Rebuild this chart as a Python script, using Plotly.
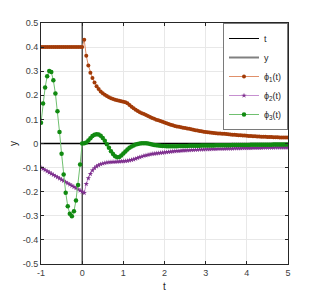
import numpy as np
import plotly.graph_objects as go

# ---- data ----
t = np.linspace(-1, 5, 121)

phi1 = [
    0.400, 0.400, 0.400, 0.400, 0.400, 0.400, 0.400, 0.400, 0.400, 0.400,
    0.400, 0.400, 0.400, 0.400, 0.400, 0.400, 0.400, 0.400, 0.400, 0.400,
    0.400,
    0.430, 0.364, 0.324, 0.294, 0.272, 0.253, 0.238, 0.226, 0.216, 0.208,
    0.202, 0.197, 0.192, 0.188, 0.185, 0.182, 0.179, 0.177, 0.175, 0.173,
    0.171, 0.167, 0.160, 0.153, 0.146, 0.140, 0.135, 0.130, 0.126, 0.122,
    0.118, 0.114, 0.110, 0.106, 0.103, 0.099, 0.096, 0.093, 0.090, 0.087,
    0.084, 0.081, 0.078, 0.076, 0.073, 0.071, 0.069, 0.067, 0.065, 0.064,
    0.062, 0.061, 0.059, 0.057, 0.055, 0.054, 0.052, 0.051, 0.049, 0.048,
    0.047, 0.046, 0.045, 0.044, 0.043, 0.042, 0.041, 0.040, 0.040, 0.039,
    0.038, 0.037, 0.036, 0.036, 0.035, 0.034, 0.034, 0.033, 0.033, 0.032,
    0.031, 0.031, 0.030, 0.030, 0.029, 0.029, 0.028, 0.028, 0.028, 0.027,
    0.027, 0.027, 0.026, 0.026, 0.026, 0.025, 0.025, 0.025, 0.025, 0.025,
]

phi2 = [
    -0.100, -0.105, -0.110, -0.115, -0.120, -0.125, -0.130, -0.135, -0.140, -0.145,
    -0.150, -0.155, -0.160, -0.165, -0.170, -0.175, -0.180, -0.185, -0.190, -0.195,
    -0.200,
    -0.205, -0.168, -0.144, -0.126, -0.112, -0.102, -0.095, -0.090, -0.086, -0.083,
    -0.081, -0.079, -0.078, -0.077, -0.076, -0.076, -0.075, -0.075, -0.074, -0.074,
    -0.073, -0.072, -0.070, -0.068, -0.066, -0.063, -0.060, -0.057, -0.054, -0.051,
    -0.049, -0.047, -0.045, -0.043, -0.042, -0.041, -0.040, -0.039, -0.038, -0.037,
    -0.036, -0.035, -0.034, -0.033, -0.032, -0.031, -0.031, -0.030, -0.029, -0.029,
    -0.028, -0.028, -0.027, -0.027, -0.026, -0.026, -0.025, -0.025, -0.025, -0.024,
    -0.024, -0.024, -0.023, -0.023, -0.023, -0.022, -0.022, -0.022, -0.022, -0.021,
    -0.021, -0.021, -0.021, -0.020, -0.020, -0.020, -0.020, -0.019, -0.019, -0.019,
    -0.019, -0.019, -0.018, -0.018, -0.018, -0.018, -0.018, -0.017, -0.017, -0.017,
    -0.017, -0.017, -0.017, -0.016, -0.016, -0.016, -0.016, -0.016, -0.016, -0.016,
]

phi3 = [
    0.086, 0.166, 0.232, 0.279, 0.301, 0.297, 0.262, 0.207, 0.134, 0.048,
    -0.043, -0.129, -0.204, -0.260, -0.292, -0.302, -0.281, -0.236, -0.172, -0.087,
    0.000,
    0.001, 0.004, 0.012, 0.022, 0.031, 0.036, 0.038, 0.037, 0.032, 0.023,
    0.011, -0.003, -0.018, -0.032, -0.044, -0.053, -0.057, -0.056, -0.050, -0.042,
    -0.033, -0.025, -0.018, -0.012, -0.008, -0.004, -0.002, 0.000, 0.001, 0.001,
    0.001, 0.000, -0.002, -0.004, -0.006, -0.007, -0.008, -0.009, -0.010, -0.010,
    -0.011, -0.011, -0.011, -0.011, -0.011, -0.011, -0.010, -0.010, -0.010, -0.010,
    -0.010, -0.009, -0.009, -0.009, -0.009, -0.009, -0.009, -0.008, -0.008, -0.008,
    -0.008, -0.008, -0.008, -0.008, -0.007, -0.007, -0.007, -0.007, -0.007, -0.007,
    -0.007, -0.007, -0.006, -0.006, -0.006, -0.006, -0.006, -0.006, -0.006, -0.006,
    -0.006, -0.005, -0.005, -0.005, -0.005, -0.005, -0.005, -0.005, -0.005, -0.005,
    -0.005, -0.005, -0.004, -0.004, -0.004, -0.004, -0.004, -0.004, -0.004, -0.004,
]

# reference lines
t_line_x = [0, 0]
t_line_y = [-0.5, 0.5]
y_line_x = [-1, 5]
y_line_y = [0, 0]

x_tickvals = [-1, 0, 1, 2, 3, 4, 5]
x_ticktext = ["-1", "0", "1", "2", "3", "4", "5"]
y_tickvals = [-0.5, -0.4, -0.3, -0.2, -0.1, 0, 0.1, 0.2, 0.3, 0.4, 0.5]
y_ticktext = ["-0.5", "-0.4", "-0.3", "-0.2", "-0.1", "0", "0.1", "0.2", "0.3", "0.4", "0.5"]

assert len(phi1) == len(phi2) == len(phi3) == len(t)

FONT = "Liberation Sans, Arial, sans-serif"

fig = go.Figure()
fig.add_trace(go.Scatter(x=y_line_x, y=y_line_y, mode="lines", name="y",
                         line=dict(color="#808080", width=2), legendrank=2))
fig.add_trace(go.Scatter(x=t_line_x, y=t_line_y, mode="lines", name="t",
                         line=dict(color="#000000", width=1), legendrank=1))
fig.add_trace(go.Scatter(x=y_line_x, y=y_line_y, mode="lines", showlegend=False,
                         line=dict(color="#000000", width=1), hoverinfo="skip"))
fig.add_trace(go.Scatter(x=t, y=phi1, mode="lines+markers", name="ϕ<sub>1</sub>(t)",
                         line=dict(color="#e0906a", width=1),
                         marker=dict(color="#a23b08", size=4, symbol="circle"),
                         legendrank=3))
fig.add_trace(go.Scatter(x=t, y=phi2, mode="lines+markers", name="ϕ<sub>2</sub>(t)",
                         line=dict(color="#c690d0", width=1),
                         marker=dict(color="#7e2f8e", size=4, symbol="star"),
                         legendrank=4))
fig.add_trace(go.Scatter(x=t, y=phi3, mode="lines+markers", name="ϕ<sub>3</sub>(t)",
                         line=dict(color="#70c070", width=1),
                         marker=dict(color="#118a11", size=4.5, symbol="circle"),
                         legendrank=5))

axis_common = dict(
    showline=True, linecolor="#262626", linewidth=1, mirror="allticks",
    ticks="inside", ticklen=3, tickcolor="#262626",
    showgrid=True, gridcolor="#e8e8e8", gridwidth=1,
    zeroline=False, automargin=False,
    tickfont=dict(family=FONT, size=9, color="#404040"),
)

# page body has an 8px margin, so the figure is sized/margined to compensate
fig.update_layout(
    width=311, height=289,
    margin=dict(l=33, r=31, t=15, b=33),
    paper_bgcolor="white", plot_bgcolor="white",
    font=dict(family=FONT, size=9, color="#262626"),
    xaxis=dict(range=[-1, 5], tickvals=x_tickvals, ticktext=x_ticktext,
               title=dict(text="t", font=dict(size=10, color="#262626"), standoff=6),
               **axis_common),
    yaxis=dict(range=[-0.5, 0.5], tickvals=y_tickvals, ticktext=y_ticktext,
               title=dict(text="y", font=dict(size=10, color="#262626"), standoff=11),
               **axis_common),
    legend=dict(x=1, y=1, xanchor="right", yanchor="top",
                bgcolor="white", bordercolor="#7a7a7a", borderwidth=1,
                font=dict(family=FONT, size=9, color="#262626"),
                itemwidth=30, tracegroupgap=0),
    showlegend=True,
)

fig.write_html("out.html")
